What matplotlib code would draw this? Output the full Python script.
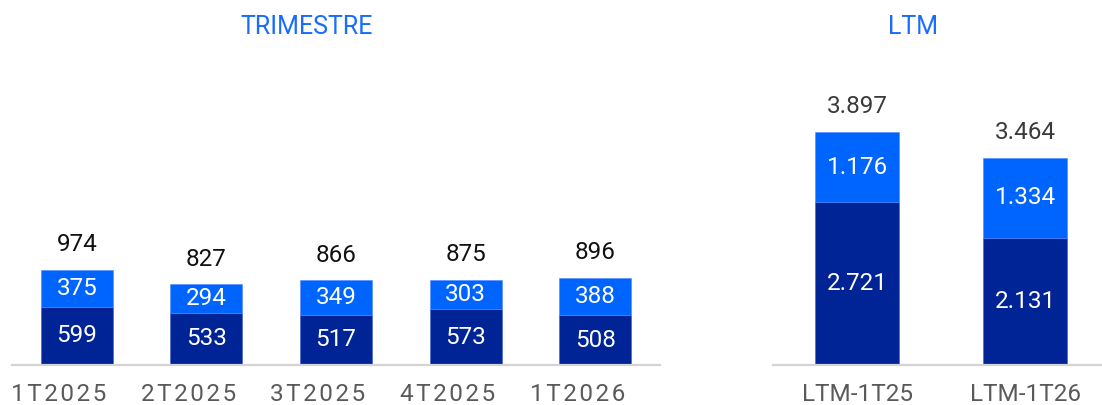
import matplotlib
matplotlib.use("Agg")
import matplotlib.pyplot as plt
from matplotlib.transforms import ScaledTranslation

plt.rcParams['font.family'] = ['Roboto', 'DejaVu Sans']

# ---- data ----
q_labels = ["1T2025", "2T2025", "3T2025", "4T2025", "1T2026"]
q_bottom = [599, 533, 517, 573, 508]
q_top = [375, 294, 349, 303, 388]
q_total = [974, 827, 866, 875, 896]

ltm_labels = ["LTM-1T25", "LTM-1T26"]
ltm_bottom = [2721, 2131]
ltm_top = [1176, 1334]
ltm_total = [3897, 3464]

DARK = '#002396'
LIGHT = '#0064FF'
TITLE = '#1A6CFF'
TICK = '#5a5a5a'
BASE = '#d4d4d4'

W, H = 1102, 405
fig = plt.figure(figsize=(W / 100, H / 100), dpi=100)


def fmt(v):
    return f"{v:,}".replace(",", ".")


def spaced(s):
    return "\u200a".join(s)


def panel(rect, labels, bottom, top, total, width, ylim, total_color, spaced_ticks, tick_fs, dx):
    x0, x1, y0, y1 = rect
    ax = fig.add_axes([x0 / W, (H - y1) / H, (x1 - x0) / W, (y1 - y0) / H])
    pos = list(range(len(labels)))
    ax.bar(pos, bottom, width=width, color=DARK, edgecolor='#3a5fd0', linewidth=0.4)
    ax.bar(pos, top, bottom=bottom, width=width, color=LIGHT, edgecolor='#4d88ff', linewidth=0.4)
    for p, b, t, tot in zip(pos, bottom, top, total):
        ax.text(p, b / 2, fmt(b), ha='center', va='center', color='white', fontsize=17.5)
        ax.text(p, b + t / 2, fmt(t), ha='center', va='center', color='white', fontsize=17.5)
        ax.annotate(fmt(tot), (p, b + t), xytext=(0, 18), textcoords='offset points',
                    ha='center', va='center', color=total_color, fontsize=17.5)
    ax.set_xlim(-0.5, len(labels) - 0.5)
    ax.set_ylim(0, ylim)
    ax.set_xticks(pos)
    ax.set_xticklabels([spaced(l) if spaced_ticks else l for l in labels],
                       color=TICK, fontsize=tick_fs)
    ax.tick_params(axis='x', length=0, pad=13)
    if dx:
        off = ScaledTranslation(dx / 100, 0, fig.dpi_scale_trans)
        for lab in ax.get_xticklabels():
            lab.set_transform(lab.get_transform() + off)
    ax.set_yticks([])
    for s in ['top', 'left', 'right']:
        ax.spines[s].set_visible(False)
    ax.spines['bottom'].set_color(BASE)
    ax.spines['bottom'].set_linewidth(1.6)
    ax.set_facecolor('none')
    return ax


ax1 = panel((12, 660, 40, 365), q_labels, q_bottom, q_top, q_total,
            0.555, 325 / 0.0976, '#111111', True, 17.5, -18)
ax2 = panel((773, 1102, 40, 365), ltm_labels, ltm_bottom, ltm_top, ltm_total,
            0.5, 325 / 0.0598, '#3a3a3a', False, 17.5, 0)
ax2.set_xlim(-0.5, 1.458)

fig.text(307 / W, (H - 27) / H, "TRIMESTRE", ha='center', va='center', color=TITLE, fontsize=18)
fig.text(913 / W, (H - 27) / H, "LTM", ha='center', va='center', color=TITLE, fontsize=18)

fig.savefig("out.png", dpi=100)
